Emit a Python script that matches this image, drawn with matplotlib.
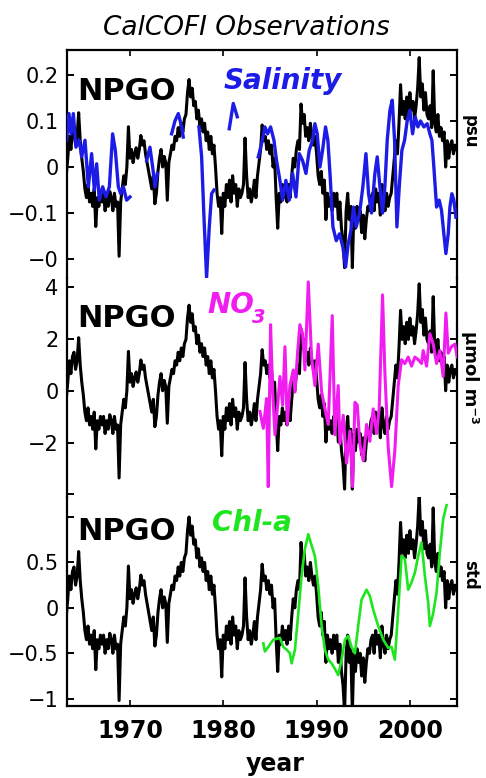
import numpy as np
import matplotlib
matplotlib.use("Agg")
import matplotlib.pyplot as plt
from matplotlib.text import Annotation

W, H = 486, 778

# ---------------- data ----------------
# NPGO index (std units), 6 values per year starting 1963.0
npgo_start = 1963.0
npgo_std = [
    0.0, -0.1, 0.1, 0.35, 0.2, 0.4,          # 1963
    0.45, 0.25, 0.35, 0.62, 0.3, 0.1,        # 1964
    -0.05, -0.25, -0.35, -0.2, -0.4, -0.3,   # 1965
    -0.45, -0.25, -0.68, -0.35, -0.45, -0.3, # 1966
    -0.4, -0.3, -0.5, -0.35, -0.45, -0.28,   # 1967
    -0.35, -0.5, -0.3, -0.45, -0.4, -1.02,   # 1968
    -0.4, -0.25, -0.1, -0.2, 0.0, 0.46,      # 1969
    0.1, 0.2, 0.05, 0.15, 0.22, 0.1,         # 1970
    0.2, 0.36, 0.25, 0.3, 0.15, 0.05,        # 1971
    -0.05, -0.15, -0.25, -0.1, -0.42, -0.3,  # 1972
    -0.05, 0.1, 0.2, 0.0, 0.12, 0.05,        # 1973
    -0.38, 0.05, 0.15, 0.25, 0.2, 0.35,      # 1974
    0.3, 0.45, 0.35, 0.5, 0.4, 0.55,         # 1975
    0.6, 0.85, 1.0, 0.8, 0.9, 0.7,           # 1976
    0.75, 0.55, 0.65, 0.45, 0.55, 0.4,       # 1977
    0.5, 0.3, 0.4, 0.2, 0.35, 0.15,          # 1978
    0.25, 0.0, -0.3, -0.45, -0.35, -0.76,    # 1979
    -0.3, -0.45, -0.2, -0.35, -0.15, -0.4,   # 1980
    -0.1, -0.3, -0.2, -0.45, -0.25, -0.35,   # 1981
    -0.3, -0.2, 0.33, -0.1, -0.35, -0.25,    # 1982
    -0.4, -0.3, -0.15, -0.35, -0.1, 0.05,    # 1983
    0.2, 0.48, 0.3, 0.35, 0.2, 0.3,          # 1984
    0.15, 0.25, 0.0, 0.1, -0.35, -0.7,       # 1985
    -0.3, -0.4, -0.2, -0.35, -0.25, -0.4,    # 1986
    -0.2, -0.35, -0.1, 0.1, 0.0, 0.2,        # 1987
    0.3, 0.2, 0.72, 0.5, 0.6, 0.35,          # 1988
    0.45, 0.3, 0.5, 0.35, 0.25, 0.35,        # 1989
    0.15, -0.1, -0.2, -0.05, -0.3, -0.15,    # 1990
    -0.6, -0.3, -0.45, -0.35, -0.5, -0.3,    # 1991
    -0.45, -0.3, -0.6, -0.4, -0.7, -0.85,    # 1992
    -1.15, -0.5, -0.3, -0.6, -0.45, -1.15,   # 1993
    -0.5, -0.7, -0.45, -0.6, -0.5, -0.75,    # 1994
    -0.55, -0.82, -0.6, -0.45, -0.5, -0.35,  # 1995
    -0.3, -0.5, -0.25, -0.4, -0.3, -0.55,    # 1996
    -0.2, -0.4, -0.5, -0.3, -0.45, -0.35,    # 1997
    -0.3, -0.1, 0.1, 0.3, 0.15, 0.5,         # 1998
    0.94, 0.6, 0.75, 0.55, 0.8, 0.6,         # 1999
    0.85, 0.65, 0.75, 0.55, 0.7, 0.9,        # 2000
    1.25, 0.8, 0.95, 0.65, 0.85, 0.6,        # 2001
    0.55, 0.7, 0.45, 1.1, 0.5, 0.4,          # 2002
    0.6, 0.35, 0.45, 0.3, 0.4, 0.0,          # 2003
    0.3, 0.1, 0.25, 0.3, 0.15, 0.25,         # 2004
    0.2,                                     # 2005
]
npgo_years = npgo_start + np.arange(len(npgo_std)) / 6.0

# NPGO drawn in the units of each panel
npgo_scale_psu = 0.19
npgo_scale_no3 = 3.3
npgo_scale_std = 1.0

# Salinity (psu); NaN separates the segments
sal_years = [1963.21, 1963.46, 1963.68, 1963.93, 1964.21, 1964.57, 1964.82, 1965.18,
             1965.54, 1965.89, 1966.18, 1966.43, 1966.71, 1967.07, 1967.43, 1967.79,
             1968.14, 1968.43, 1968.75, 1969.0, 1969.29, 1969.64, 1970.0, np.nan,
             1971.79, 1972.14, 1972.43, 1972.68, 1972.93, np.nan,
             1974.46, 1974.82, 1975.18, 1975.54, 1975.71, np.nan,
             1977.39, 1977.68, 1977.93, 1978.21, 1978.5, 1978.75, 1979.0, np.nan,
             1980.64, 1981.07, 1981.5, np.nan,
             1983.75, 1984.11, 1984.46, 1984.75, 1985.07, 1985.43, 1985.71, 1986.07,
             1986.36, 1986.71, 1987.07, 1987.43, 1987.79, 1988.14, 1988.5, 1988.86,
             1989.21, 1989.57, 1989.82, 1990.07, 1990.36, 1990.64, 1990.96, 1991.21,
             1991.46, 1991.75, 1992.11, 1992.46, 1992.82, 1993.11, 1993.39, 1993.68,
             1993.96, 1994.25, 1994.61, 1994.96, 1995.29, 1995.57, 1995.89, 1996.25,
             1996.5, 1996.79, 1997.07, 1997.32, 1997.57, 1997.86, 1998.11, 1998.36,
             1998.61, 1998.86, 1999.14, 1999.43, 1999.71, 2000.0, 2000.29, 2000.57,
             2000.86, 2001.14, 2001.5, 2001.86, 2002.14, 2002.36, 2002.57, 2002.86,
             2003.14, 2003.39, 2003.64, 2003.86, 2004.11, 2004.29, 2004.5, 2004.71,
             2004.93]
sal_vals = [0.058, 0.116, 0.072, 0.116, 0.043, 0.058, 0.022, 0.058,
            -0.043, 0.029, -0.05, 0.007, -0.072, -0.043, -0.065, -0.043,
            0.072, 0.036, -0.043, -0.058, -0.043, -0.072, -0.065, np.nan,
            0.014, 0.043, 0.0, -0.043, -0.014, np.nan,
            0.072, 0.1, 0.116, 0.087, 0.065, np.nan,
            0.087, 0.022, -0.109, -0.24, -0.13, -0.058, -0.05, np.nan,
            0.083, 0.138, 0.109, np.nan,
            0.022, 0.051, 0.087, 0.072, 0.087, 0.058, 0.014, -0.029,
            -0.072, -0.029, -0.072, -0.014, -0.065, 0.029, 0.014, -0.014,
            0.036, 0.058, 0.094, 0.072, 0.0, 0.036, 0.087, 0.058,
            -0.022, -0.13, -0.16, -0.145, -0.174, -0.217, -0.167, -0.138,
            -0.087, -0.13, -0.1, -0.043, 0.029, -0.058, -0.1, -0.014,
            0.022, -0.043, -0.1, -0.043, 0.058, 0.123, 0.145, 0.058,
            -0.13, -0.043, 0.036, 0.058, 0.1, 0.123, 0.072, 0.109,
            0.087, 0.1, 0.087, 0.094, 0.072, 0.058, 0.0, -0.087,
            -0.072, -0.094, -0.145, -0.188, -0.145, -0.087, -0.058, -0.072,
            -0.109]

# Nitrate (umol m-3)
no3_years = [1983.93, 1984.29, 1984.64, 1984.82, 1985.07, 1985.29, 1985.54, 1985.89,
             1986.07, 1986.36, 1986.61, 1986.86, 1987.14, 1987.5, 1987.68, 1987.96,
             1988.21, 1988.5, 1988.75, 1989.11, 1989.46, 1989.82, 1990.18, 1990.54,
             1990.89, 1991.25, 1991.68, 1991.96, 1992.32, 1992.5, 1992.86, 1993.21,
             1993.57, 1993.86, 1994.11, 1994.36, 1994.64, 1995.0, 1995.36, 1995.71,
             1996.07, 1996.43, 1996.71, 1997.07, 1997.32, 1997.68, 1998.04, 1998.39,
             1998.75, 1999.11, 1999.46, 1999.82, 2000.18, 2000.54, 2000.89, 2001.25,
             2001.43, 2001.79, 2002.14, 2002.5, 2002.86, 2003.21, 2003.57, 2003.86,
             2004.11, 2004.46, 2004.82, 2005.07]
no3_vals = [-0.8, -1.45, -0.3, -3.7, 2.55, 0.0, -1.7, -0.3,
            0.55, -0.55, 1.7, -1.3, 0.2, 0.8, -0.05, 1.45,
            2.55, 2.2, 0.8, 4.2, 1.3, 0.2, 1.8, -0.05,
            -0.7, -1.3, 2.9, -1.7, 0.2, -2.05, -0.95, -2.8,
            -1.55, -3.7, -0.45, -0.55, -2.05, -2.7, -1.3, -1.95,
            -0.7, -1.65, -0.7, 3.7, 0.7, -2.2, -3.7, -2.3,
            0.2, 1.2, 1.05, 1.3, 0.95, 1.3, 1.2, 1.05,
            1.55, 0.95, 2.2, 1.8, 1.05, 1.55, 0.55, 3.0,
            1.45, 1.7, 1.8, 1.3]

# Chlorophyll-a (std)
chl_years = [1984.29, 1984.46, 1984.82, 1985.36, 1986.07, 1986.43, 1986.79, 1987.14,
             1987.32, 1987.68, 1988.04, 1988.39, 1988.75, 1989.11, 1989.46, 1989.82,
             1990.18, 1990.54, 1990.89, 1991.25, 1991.61, 1991.96, 1992.32, 1992.68,
             1993.04, 1993.39, 1993.75, 1994.11, 1994.46, 1994.82, 1995.36, 1995.71,
             1996.07, 1996.61, 1997.14, 1997.68, 1998.04, 1998.39, 1998.75, 1999.11,
             1999.46, 1999.82, 2000.18, 2000.54, 2000.89, 2001.25, 2001.61, 2001.96,
             2002.14, 2002.5, 2002.86, 2003.21, 2003.57, 2003.93]
chl_vals = [-0.39, -0.48, -0.43, -0.35, -0.33, -0.43, -0.46, -0.5,
            -0.61, -0.46, -0.06, 0.35, 0.65, 0.81, 0.69, 0.57,
            0.24, -0.2, -0.46, -0.57, -0.61, -0.67, -0.74, -0.57,
            -0.35, -0.31, -0.43, -0.5, -0.2, 0.09, 0.2, 0.13,
            -0.02, -0.2, -0.35, -0.44, -0.43, -0.57, -0.02, 0.57,
            0.54, 0.2, 0.28, 0.39, 0.57, 0.72, 0.35, 0.06,
            -0.2, -0.06, 0.17, 0.61, 0.98, 1.13]

year_ticks = [1970, 1980, 1990, 2000]
year_labels = ["1970", "1980", "1990", "2000"]
sal_ticks = [-0.2, -0.1, 0.0, 0.1, 0.2]
sal_ticklabels = ["\u22120", "\u22120.1", "0", "0.1", "0.2"]
no3_ticks = [-4, -2, 0, 2, 4]
no3_ticklabels = ["", "\u22122", "0", "2", "4"]
chl_ticks = [-1, -0.5, 0, 0.5, 1]
chl_ticklabels = ["\u22121", "\u22120.5", "0", "0.5", ""]

# ---------------- styling ----------------
C_BLUE = "#1c1ce6"
C_MAG = "#f01cf0"
C_GREEN = "#1ee61e"

fig = plt.figure(figsize=(W / 100, H / 100), dpi=100)


def px_axes(top, bottom, left=67, right=457):
    return fig.add_axes([left / W, 1 - bottom / H, (right - left) / W, (bottom - top) / H])


def ftext(xp, yp, s, **kw):
    return fig.text(xp / W, 1 - yp / H, s, **kw)


ax1 = px_axes(50, 278)
ax2 = px_axes(278, 497)
ax3 = px_axes(497, 706)

xlim = (1963.25, 2005.05)

ax1.plot(npgo_years, np.array(npgo_std) * npgo_scale_psu, color="black", lw=2.2, zorder=2)
ax1.plot(sal_years, sal_vals, color=C_BLUE, lw=2.4, zorder=3)
ax1.set_ylim(-0.241, 0.254)
ax1.set_yticks(sal_ticks)
ax1.set_yticklabels(sal_ticklabels)

ax2.plot(npgo_years, np.array(npgo_std) * npgo_scale_no3, color="black", lw=2.2, zorder=2)
ax2.plot(no3_years, no3_vals, color=C_MAG, lw=2.2, zorder=3)
ax2.set_ylim(-4.1, 4.35)
ax2.set_yticks(no3_ticks)
ax2.set_yticklabels(no3_ticklabels)

ax3.plot(npgo_years, np.array(npgo_std) * npgo_scale_std, color="black", lw=2.2, zorder=2)
ax3.plot(chl_years, chl_vals, color=C_GREEN, lw=1.9, zorder=3)
ax3.set_ylim(-1.08, 1.22)
ax3.set_yticks(chl_ticks)
ax3.set_yticklabels(chl_ticklabels)

for i, ax in enumerate([ax1, ax2, ax3]):
    ax.set_xlim(*xlim)
    ax.set_xticks(year_ticks)
    ax.patch.set_alpha(0)
    for side in ["left", "right", "top", "bottom"]:
        ax.spines[side].set_linewidth(1.6)
    ax.spines["top"].set_visible(i == 0)
    ax.spines["bottom"].set_visible(i == 2)
    ax.tick_params(axis="y", direction="in", left=True, right=True, length=5,
                   width=1.4, labelsize=15, pad=6)
    ax.tick_params(axis="x", direction="in", top=(i == 0), bottom=(i == 2),
                   length=4, width=1.2, labelbottom=(i == 2))

ax3.set_xticklabels(year_labels)
ax3.tick_params(axis="x", labelsize=17, pad=9)
for lab in ax3.get_xticklabels():
    lab.set_fontweight("bold")

# ---------------- texts ----------------
ftext(246, 35, "CalCOFI Observations", fontsize=19, style="italic",
      ha="center", va="baseline")
ftext(275, 752, "year", fontsize=17, fontweight="bold", ha="center", va="top")

for ybase in (100, 327, 540):
    ftext(77, ybase, "NPGO", fontsize=22, fontweight="bold", ha="left", va="baseline")

ftext(224, 89, "Salinity", fontsize=20, fontweight="bold", style="italic",
      color=C_BLUE, ha="left", va="baseline")
no_txt = ftext(207, 313, "NO", fontsize=20, fontweight="bold", style="italic",
               color=C_MAG, ha="left", va="baseline")
fig.add_artist(Annotation(
    "3", xy=(1.0, 0.0), xycoords=no_txt, xytext=(-1.5, -3), textcoords="offset points",
    fontsize=14, fontweight="bold", style="italic", color=C_MAG,
    ha="left", va="baseline"))
ftext(212, 531, "Chl-a", fontsize=20, fontweight="bold", style="italic",
      color=C_GREEN, ha="left", va="baseline")

ftext(470, 132, "psu", fontsize=12, fontweight="bold", rotation=-90,
      ha="center", va="center")
ftext(470, 377, "\u03bcmol m\u207b\u00b3", fontsize=13, fontweight="bold", rotation=-90,
      ha="center", va="center")
ftext(470, 575, "std", fontsize=12, fontweight="bold", rotation=-90,
      ha="center", va="center")

fig.savefig("out.png", dpi=100)
